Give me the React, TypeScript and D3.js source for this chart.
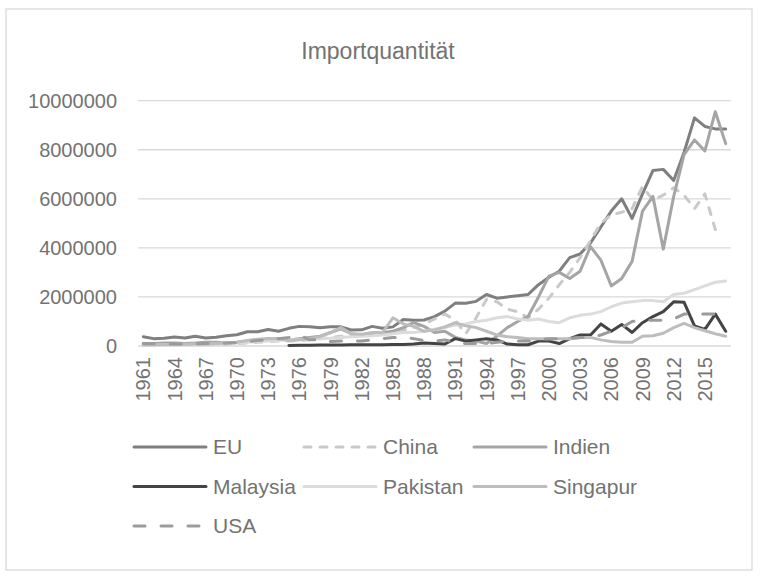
import React from "react";
import * as d3 from "d3";

const years: number[] = d3.range(1961, 2018);
const yTicks = [0, 2000000, 4000000, 6000000, 8000000, 10000000];
const xTickYears = [1961, 1964, 1967, 1970, 1973, 1976, 1979, 1982, 1985, 1988, 1991, 1994, 1997, 2000, 2003, 2006, 2009, 2012, 2015];

// values in millions (1961..2017)
const EU = [0.38,0.30,0.32,0.37,0.33,0.40,0.33,0.36,0.42,0.46,0.58,0.58,0.67,0.60,0.72,0.80,0.78,0.74,0.78,0.78,0.65,0.66,0.80,0.72,0.78,1.08,1.05,1.06,1.20,1.42,1.75,1.74,1.82,2.10,1.95,2.00,2.05,2.10,2.50,2.80,3.05,3.60,3.75,4.20,4.85,5.50,6.00,5.20,6.20,7.15,7.20,6.75,7.90,9.30,8.95,8.85,8.85];
const China = [0.05,0.05,0.05,0.06,0.06,0.07,0.07,0.08,0.08,0.10,0.12,0.15,0.18,0.20,0.20,0.22,0.25,0.30,0.35,0.40,0.42,0.45,0.48,0.50,0.55,0.65,0.75,0.90,1.10,1.30,1.05,0.50,1.15,1.90,1.80,1.50,1.40,1.15,1.50,1.95,2.50,3.00,3.60,4.30,5.00,5.35,5.45,5.60,6.50,5.95,6.15,6.45,6.15,5.60,6.20,4.75,null];
const Indien = [0.10,0.10,0.12,0.12,0.10,0.12,0.15,0.15,0.12,0.15,0.20,0.25,0.30,0.30,0.25,0.30,0.35,0.40,0.55,0.70,0.50,0.45,0.50,0.55,0.60,0.75,0.95,0.80,0.55,0.60,0.35,0.25,0.20,0.10,0.40,0.75,1.00,1.20,2.00,2.85,3.00,2.75,3.05,4.05,3.50,2.45,2.75,3.45,5.50,6.10,3.95,6.10,7.80,8.40,7.95,9.55,8.25];
const Malaysia = [null,null,null,null,null,null,null,null,null,null,null,null,null,null,0.02,0.03,0.03,0.04,0.04,0.04,0.05,0.05,0.05,0.05,0.06,0.06,0.08,0.12,0.10,0.08,0.30,0.20,0.25,0.30,0.25,0.08,0.05,0.05,0.20,0.20,0.10,0.30,0.45,0.45,0.90,0.60,0.88,0.55,0.95,1.20,1.40,1.80,1.78,0.82,0.68,1.30,0.60];
const Pakistan = [0.02,0.03,0.03,0.04,0.05,0.05,0.06,0.08,0.10,0.12,0.15,0.18,0.20,0.22,0.25,0.25,0.28,0.30,0.32,0.35,0.38,0.40,0.42,0.45,0.50,0.55,0.55,0.60,0.68,0.75,0.85,0.90,1.00,1.05,1.15,1.20,1.10,1.05,1.10,1.00,0.95,1.15,1.25,1.30,1.40,1.60,1.75,1.80,1.85,1.85,1.80,2.10,2.15,2.30,2.45,2.60,2.65];
const Singapur = [0.05,0.05,0.06,0.06,0.07,0.08,0.08,0.10,0.12,0.15,0.22,0.28,0.30,0.30,0.22,0.25,0.30,0.38,0.55,0.75,0.50,0.48,0.55,0.55,1.15,0.90,0.80,0.60,0.65,0.78,0.95,0.82,0.75,0.60,0.45,0.38,0.35,0.30,0.30,0.30,0.30,0.30,0.35,0.35,0.25,0.18,0.15,0.15,0.40,0.42,0.52,0.75,0.92,0.75,0.62,0.50,0.40];
const USA = [0.10,0.09,0.08,0.08,0.08,0.09,0.10,0.10,0.12,0.14,0.18,0.22,0.25,0.30,0.35,0.45,0.25,0.25,0.18,0.20,0.20,0.20,0.25,0.30,0.35,0.35,0.30,0.22,0.20,0.25,0.15,0.10,0.10,0.10,0.15,0.20,0.20,0.20,0.25,0.30,0.30,0.30,0.35,0.35,0.45,0.60,0.75,1.00,1.05,1.05,1.05,1.10,1.30,1.30,1.30,1.30,null];

const seriesNames = ["EU", "China", "Indien", "Malaysia", "Pakistan", "Singapur", "USA"];
const seriesData = [EU, China, Indien, Malaysia, Pakistan, Singapur, USA];
const seriesColors = ["#7f7f7f", "#c9c9c9", "#a5a5a5", "#444444", "#dcdcdc", "#bdbdbd", "#9b9b9b"];
const seriesDash = [null, "7,9", null, null, null, null, "11,16"];

const W = 763, H = 580;
const FONT = "'Liberation Sans', Arial, sans-serif";
const TXT = "#737373";

export default function App() {
  const x = d3.scalePoint<number>().domain(years).range([138.1, 730.9]).padding(0.5);
  const y = d3.scaleLinear().domain([0, 10000000]).range([346, 100.7]);
  const line = d3.line<number | null>()
    .defined((d) => d != null)
    .x((_, i) => x(years[i]) as number)
    .y((d) => y((d as number) * 1e6));

  const legendCols = [134, 304, 474];
  const legendRows = [447, 486.5, 526];

  return (
    <svg width={W} height={H} style={{ position: "absolute", left: 0, top: 0 }}>
      <rect x={0} y={0} width={W} height={H} fill="#fff" />
      <rect x={6} y={9} width={746} height={561} fill="#fff" stroke="#d9d9d9" strokeWidth={1.3} />
      <text x={378} y={59} textAnchor="middle" fontFamily={FONT} fontSize={23} fill={TXT}>Importquantität</text>
      {yTicks.map((t) => (
        <g key={t}>
          <line x1={138.1} x2={730.9} y1={y(t)} y2={y(t)} stroke="#d9d9d9" strokeWidth={1.3} />
          <text x={117} y={y(t)} dy="0.35em" textAnchor="end" fontFamily={FONT} fontSize={20} fill={TXT}>{t}</text>
        </g>
      ))}
      {xTickYears.map((yr) => (
        <text key={yr} transform={`translate(${x(yr)},357) rotate(-90)`} dy="0.35em" textAnchor="end" fontFamily={FONT} fontSize={20} fill={TXT}>{yr}</text>
      ))}
      {seriesData.map((s, i) => (
        <path key={seriesNames[i]} d={line(s) || ""} fill="none" stroke={seriesColors[i]} strokeWidth={3}
          strokeLinejoin="round" strokeLinecap="round" strokeDasharray={seriesDash[i] || undefined} />
      ))}
      {seriesNames.map((n, i) => {
        const cx = legendCols[i % 3];
        const cy = legendRows[Math.floor(i / 3)];
        return (
          <g key={n}>
            <line x1={cx} x2={cx + 72} y1={cy} y2={cy} stroke={seriesColors[i]} strokeWidth={3}
              strokeLinecap="round" strokeDasharray={seriesDash[i] || undefined} />
            <text x={cx + 79} y={cy} dy="0.35em" fontFamily={FONT} fontSize={21} fill={TXT}>{n}</text>
          </g>
        );
      })}
    </svg>
  );
}
